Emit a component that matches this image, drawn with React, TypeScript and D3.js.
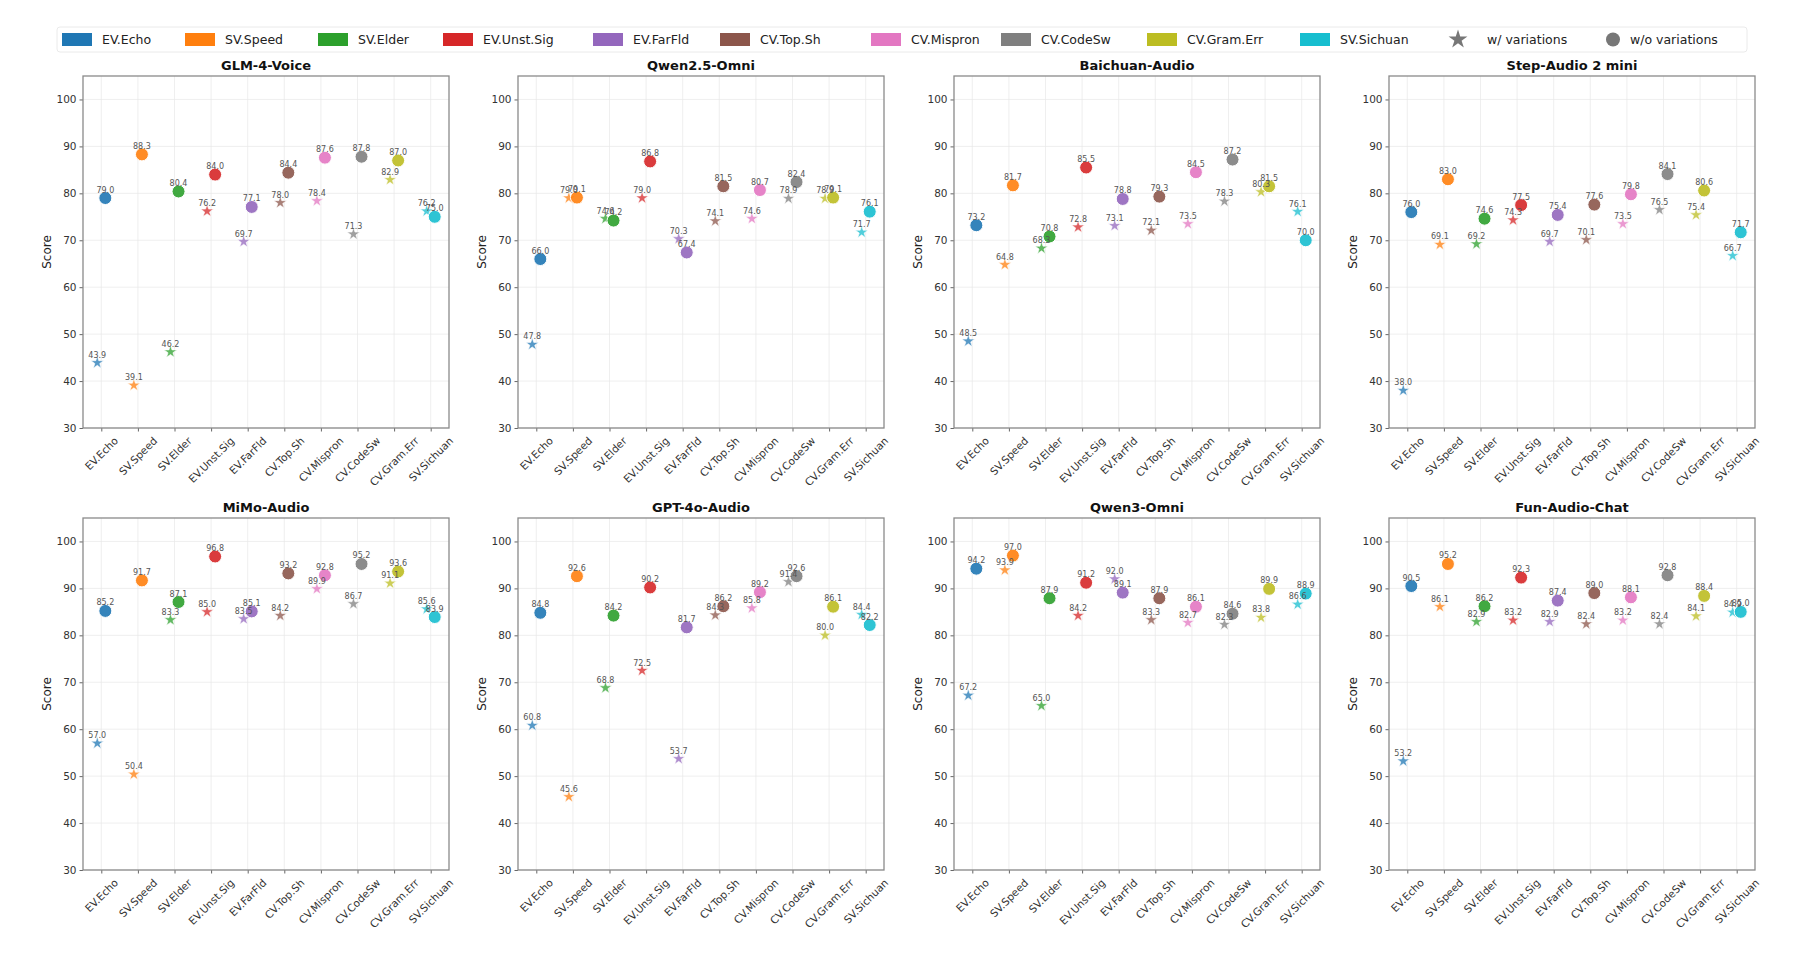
import React, { useEffect, useRef } from 'react';
import * as d3 from 'd3';

const categories = [
  'EV.Echo', 'SV.Speed', 'SV.Elder', 'EV.Unst.Sig', 'EV.FarFld',
  'CV.Top.Sh', 'CV.Mispron', 'CV.CodeSw', 'CV.Gram.Err', 'SV.Sichuan',
];

const palette = [
  '#1f77b4', '#ff7f0e', '#2ca02c', '#d62728', '#9467bd',
  '#8c564b', '#e377c2', '#7f7f7f', '#bcbd22', '#17becf',
];

const models = [
  'GLM-4-Voice', 'Qwen2.5-Omni', 'Baichuan-Audio', 'Step-Audio 2 mini',
  'MiMo-Audio', 'GPT-4o-Audio', 'Qwen3-Omni', 'Fun-Audio-Chat',
];

// scores with variations (stars) and without variations (circles)
const glmWith = [43.9, 39.1, 46.2, 76.2, 69.7, 78.0, 78.4, 71.3, 82.9, 76.2];
const glmWithout = [79.0, 88.3, 80.4, 84.0, 77.1, 84.4, 87.6, 87.8, 87.0, 75.0];
const qwen25With = [47.8, 79.0, 74.6, 79.0, 70.3, 74.1, 74.6, 78.9, 78.9, 71.7];
const qwen25Without = [66.0, 79.1, 74.2, 86.8, 67.4, 81.5, 80.7, 82.4, 79.1, 76.1];
const baichuanWith = [48.5, 64.8, 68.3, 72.8, 73.1, 72.1, 73.5, 78.3, 80.3, 76.1];
const baichuanWithout = [73.2, 81.7, 70.8, 85.5, 78.8, 79.3, 84.5, 87.2, 81.5, 70.0];
const stepWith = [38.0, 69.1, 69.2, 74.3, 69.7, 70.1, 73.5, 76.5, 75.4, 66.7];
const stepWithout = [76.0, 83.0, 74.6, 77.5, 75.4, 77.6, 79.8, 84.1, 80.6, 71.7];
const mimoWith = [57.0, 50.4, 83.3, 85.0, 83.5, 84.2, 89.9, 86.7, 91.1, 85.6];
const mimoWithout = [85.2, 91.7, 87.1, 96.8, 85.1, 93.2, 92.8, 95.2, 93.6, 83.9];
const gptWith = [60.8, 45.6, 68.8, 72.5, 53.7, 84.3, 85.8, 91.4, 80.0, 84.4];
const gptWithout = [84.8, 92.6, 84.2, 90.2, 81.7, 86.2, 89.2, 92.6, 86.1, 82.2];
const qwen3With = [67.2, 93.9, 65.0, 84.2, 92.0, 83.3, 82.7, 82.3, 83.8, 86.6];
const qwen3Without = [94.2, 97.0, 87.9, 91.2, 89.1, 87.9, 86.1, 84.6, 89.9, 88.9];
const funWith = [53.2, 86.1, 82.9, 83.2, 82.9, 82.4, 83.2, 82.4, 84.1, 84.9];
const funWithout = [90.5, 95.2, 86.2, 92.3, 87.4, 89.0, 88.1, 92.8, 88.4, 85.0];

const withVariations = [glmWith, qwen25With, baichuanWith, stepWith, mimoWith, gptWith, qwen3With, funWith];
const withoutVariations = [glmWithout, qwen25Without, baichuanWithout, stepWithout, mimoWithout, gptWithout, qwen3Without, funWithout];

const yTicks = [30, 40, 50, 60, 70, 80, 90, 100];

const WIDTH = 1800;
const HEIGHT = 961;
const FONT = 'DejaVu Sans, sans-serif';

const App: React.FC = () => {
  const svgRef = useRef<SVGSVGElement | null>(null);

  useEffect(() => {
    if (!svgRef.current) return;
    const svg = d3.select(svgRef.current);
    svg.selectAll('*').remove();

    // Legend
    const legend = svg.append('g');
    legend.append('rect')
      .attr('x', 57).attr('y', 27).attr('width', 1690).attr('height', 25)
      .attr('rx', 3)
      .attr('fill', '#fff')
      .attr('stroke', '#e4e4e4')
      .attr('stroke-width', 0.8);
    const legendX = [62, 185, 318, 443, 593, 720, 871, 1001, 1147, 1300];
    const ly = 39.5;
    categories.forEach((c, i) => {
      legend.append('rect')
        .attr('x', legendX[i]).attr('y', ly - 6.5)
        .attr('width', 30).attr('height', 13)
        .attr('fill', palette[i]);
      legend.append('text')
        .attr('x', legendX[i] + 40).attr('y', ly + 4.5)
        .attr('font-family', FONT).attr('font-size', 12.5)
        .attr('fill', '#222')
        .text(c);
    });
    legend.append('path')
      .attr('d', d3.symbol().type(d3.symbolStar).size(110)())
      .attr('transform', `translate(1458,${ly})`)
      .attr('fill', '#777');
    legend.append('text')
      .attr('x', 1487).attr('y', ly + 4.5)
      .attr('font-family', FONT).attr('font-size', 12.5).attr('fill', '#222')
      .text('w/ variations');
    legend.append('circle')
      .attr('cx', 1613).attr('cy', ly).attr('r', 7)
      .attr('fill', '#777');
    legend.append('text')
      .attr('x', 1630).attr('y', ly + 4.5)
      .attr('font-family', FONT).attr('font-size', 12.5).attr('fill', '#222')
      .text('w/o variations');

    const lefts = [83, 518, 954, 1389];
    const tops = [76, 518];
    const pw = 366;
    const ph = 352;
    const starPath = d3.symbol().type(d3.symbolStar).size(50)();

    models.forEach((name, mi) => {
      const left = lefts[mi % 4];
      const top = tops[Math.floor(mi / 4)];
      const g = svg.append('g').attr('transform', `translate(${left},${top})`);

      const x = d3.scaleLinear().domain([-0.5, 9.5]).range([0, pw]);
      const y = d3.scaleLinear().domain([30, 105]).range([ph, 0]);
      const idx = d3.range(categories.length);

      // grid
      g.selectAll('line.gy').data(yTicks).enter().append('line')
        .attr('x1', 0).attr('x2', pw)
        .attr('y1', d => y(d)).attr('y2', d => y(d))
        .attr('stroke', '#e8e8e8').attr('stroke-width', 0.7);
      g.selectAll('line.gx').data(idx).enter().append('line')
        .attr('y1', 0).attr('y2', ph)
        .attr('x1', d => x(d)).attr('x2', d => x(d))
        .attr('stroke', '#e8e8e8').attr('stroke-width', 0.7);

      // axes
      const yAxis = g.append('g')
        .call(d3.axisLeft(y).tickValues(yTicks).tickSize(3.5).tickPadding(3));
      yAxis.select('.domain').remove();
      yAxis.selectAll('line').attr('stroke', '#666');
      yAxis.selectAll('text')
        .attr('font-family', FONT).attr('font-size', 10.5).attr('fill', '#333');

      const xAxis = g.append('g')
        .attr('transform', `translate(0,${ph})`)
        .call(d3.axisBottom(x).tickValues(idx).tickSize(3.5).tickFormat(() => ''));
      xAxis.select('.domain').remove();
      xAxis.selectAll('line').attr('stroke', '#666');

      // rotated category labels, centred under each tick
      idx.forEach(i => {
        const t = g.append('text')
          .attr('font-family', FONT).attr('font-size', 10.5).attr('fill', '#333')
          .attr('text-anchor', 'middle')
          .attr('dominant-baseline', 'central')
          .text(categories[i]);
        const w = (t.node() as SVGTextElement).getComputedTextLength();
        const half = (w + 10.5) / (2 * Math.SQRT2);
        t.attr('transform', `translate(${x(i)},${ph + 7 + half}) rotate(-45)`);
      });

      // frame
      g.append('rect')
        .attr('x', 0).attr('y', 0).attr('width', pw).attr('height', ph)
        .attr('fill', 'none').attr('stroke', '#8a8a8a').attr('stroke-width', 1.3);

      const wv = withVariations[mi];
      const wov = withoutVariations[mi];
      const off = 0.11;

      // stars
      g.selectAll('path.star').data(idx).enter().append('path')
        .attr('d', starPath)
        .attr('transform', i => `translate(${x(i - off)},${y(wv[i])})`)
        .attr('fill', i => palette[i])
        .attr('fill-opacity', 0.75)
        .attr('stroke', '#fff').attr('stroke-width', 0.6);

      // circles
      g.selectAll('circle.dot').data(idx).enter().append('circle')
        .attr('cx', i => x(i + off))
        .attr('cy', i => y(wov[i]))
        .attr('r', 6.5)
        .attr('fill', i => palette[i])
        .attr('fill-opacity', 0.9)
        .attr('stroke', '#fff').attr('stroke-width', 1);

      // value labels
      const labelAttrs = (sel: d3.Selection<SVGTextElement, number, SVGGElement, unknown>) => sel
        .attr('font-family', FONT).attr('font-size', 8)
        .attr('fill', '#555').attr('text-anchor', 'middle');
      g.selectAll('text.lw').data(idx).enter().append('text')
        .call(labelAttrs as any)
        .attr('x', i => x(i - off))
        .attr('y', i => y(wv[i]) - 5)
        .text(i => wv[i].toFixed(1));
      g.selectAll('text.lo').data(idx).enter().append('text')
        .call(labelAttrs as any)
        .attr('x', i => x(i + off))
        .attr('y', i => y(wov[i]) - 5.5)
        .text(i => wov[i].toFixed(1));

      // title and y label
      g.append('text')
        .attr('x', pw / 2).attr('y', -6)
        .attr('text-anchor', 'middle')
        .attr('font-family', FONT).attr('font-size', 13).attr('font-weight', 'bold')
        .attr('fill', '#111')
        .text(name);
      g.append('text')
        .attr('transform', `translate(-36,${ph / 2}) rotate(-90)`)
        .attr('text-anchor', 'middle')
        .attr('dominant-baseline', 'central')
        .attr('font-family', FONT).attr('font-size', 12)
        .attr('fill', '#222')
        .text('Score');
    });
  }, []);

  return (
    <svg
      ref={svgRef}
      width={WIDTH}
      height={HEIGHT}
      style={{ position: 'absolute', left: 0, top: 0, background: '#fff', display: 'block' }}
    />
  );
};

export default App;
